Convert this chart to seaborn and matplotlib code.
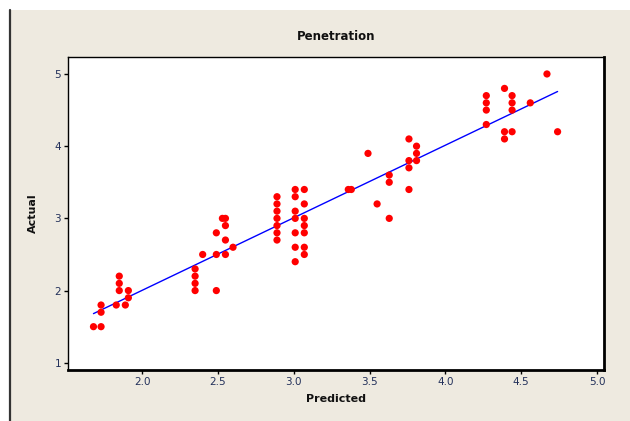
import numpy as np
import pandas as pd
import matplotlib
matplotlib.use("Agg")
import matplotlib.pyplot as plt
import seaborn as sns
from matplotlib.patches import Rectangle
from matplotlib.lines import Line2D

# Data (Predicted vs Actual)
predicted = [
    1.68,
    1.73, 1.73, 1.73,
    1.83,
    1.85, 1.85, 1.85,
    1.89,
    1.91, 1.91,
    2.35, 2.35, 2.35, 2.35,
    2.40,
    2.49, 2.49, 2.49,
    2.53,
    2.55, 2.55, 2.55, 2.55,
    2.60,
    2.89, 2.89, 2.89, 2.89, 2.89, 2.89, 2.89,
    3.01, 3.01, 3.01, 3.01, 3.01, 3.01, 3.01,
    3.07, 3.07, 3.07, 3.07, 3.07, 3.07, 3.07,
    3.36, 3.38,
    3.49,
    3.55,
    3.63, 3.63, 3.63,
    3.76, 3.76, 3.76, 3.76,
    3.81, 3.81, 3.81,
    4.27, 4.27, 4.27, 4.27,
    4.39, 4.39, 4.39,
    4.44, 4.44, 4.44, 4.44,
    4.56,
    4.67,
    4.74,
]
actual = [
    1.5,
    1.5, 1.8, 1.7,
    1.8,
    2.2, 2.1, 2.0,
    1.8,
    2.0, 1.9,
    2.3, 2.2, 2.1, 2.0,
    2.5,
    2.5, 2.0, 2.8,
    3.0,
    3.0, 2.9, 2.7, 2.5,
    2.6,
    3.3, 3.2, 3.1, 3.0, 2.9, 2.8, 2.7,
    3.4, 3.3, 3.1, 3.0, 2.8, 2.6, 2.4,
    3.4, 3.2, 3.0, 2.9, 2.8, 2.6, 2.5,
    3.4, 3.4,
    3.9,
    3.2,
    3.6, 3.5, 3.0,
    4.1, 3.8, 3.7, 3.4,
    4.0, 3.9, 3.8,
    4.7, 4.6, 4.5, 4.3,
    4.8, 4.2, 4.1,
    4.7, 4.6, 4.5, 4.2,
    4.6,
    5.0,
    4.2,
]
x_ticks = [2.0, 2.5, 3.0, 3.5, 4.0, 4.5, 5.0]
y_ticks = [1, 2, 3, 4, 5]

df = pd.DataFrame({"Predicted": predicted, "Actual": actual})

sns.set_style("white")
plt.rcParams["font.family"] = ["DejaVu Sans"]

W, H = 630, 421
fig = plt.figure(figsize=(W / 100, H / 100), dpi=100)
fig.patch.set_facecolor("white")
bg = "#eeeae0"
fig.patches.append(Rectangle((10 / W, 0), 1 - 10 / W, 1 - 10 / H,
                             transform=fig.transFigure, facecolor=bg,
                             edgecolor="none", zorder=-10))
fig.lines.append(Line2D([9.5 / W, 9.5 / W], [0, 1 - 10 / H], transform=fig.transFigure,
                        color="#333333", lw=1.6, zorder=-5))

ax = fig.add_axes([68 / W, (H - 370) / H, (604 - 68) / W, (370 - 57) / H])
ax.set_facecolor("white")
ax.set_zorder(5)

sns.regplot(data=df, x="Predicted", y="Actual", ax=ax, ci=None, truncate=True,
            scatter_kws=dict(s=27, color="#ff0000", edgecolor="none", alpha=1, zorder=3),
            line_kws=dict(color="#0000ff", lw=1.0, zorder=2))

ax.set_xlim(1.512, 5.046)
ax.set_ylim(0.90, 5.235)
ax.set_xticks(x_ticks)
ax.set_xticklabels([f"{v:.1f}" for v in x_ticks])
ax.set_yticks(y_ticks)
ax.set_yticklabels([str(v) for v in y_ticks])

tick_color = "#22305a"
ax.tick_params(axis="both", which="major", direction="out", length=3, width=1,
               color="black", labelsize=7.5, labelcolor=tick_color, pad=2,
               bottom=True, left=True)
for s in ax.spines.values():
    s.set_color("black")
    s.set_linewidth(1.0)
ax.spines["right"].set_linewidth(2.0)
ax.spines["bottom"].set_linewidth(2.0)

ax.set_title("Penetration", fontsize=8.5, fontweight="bold", pad=12, color="#111111")
ax.set_xlabel("Predicted", fontsize=8, fontweight="bold", labelpad=5, color="#111111")
ax.set_ylabel("Actual", fontsize=8, fontweight="bold", labelpad=12, color="#111111")

fig.savefig("out.png", dpi=100)
